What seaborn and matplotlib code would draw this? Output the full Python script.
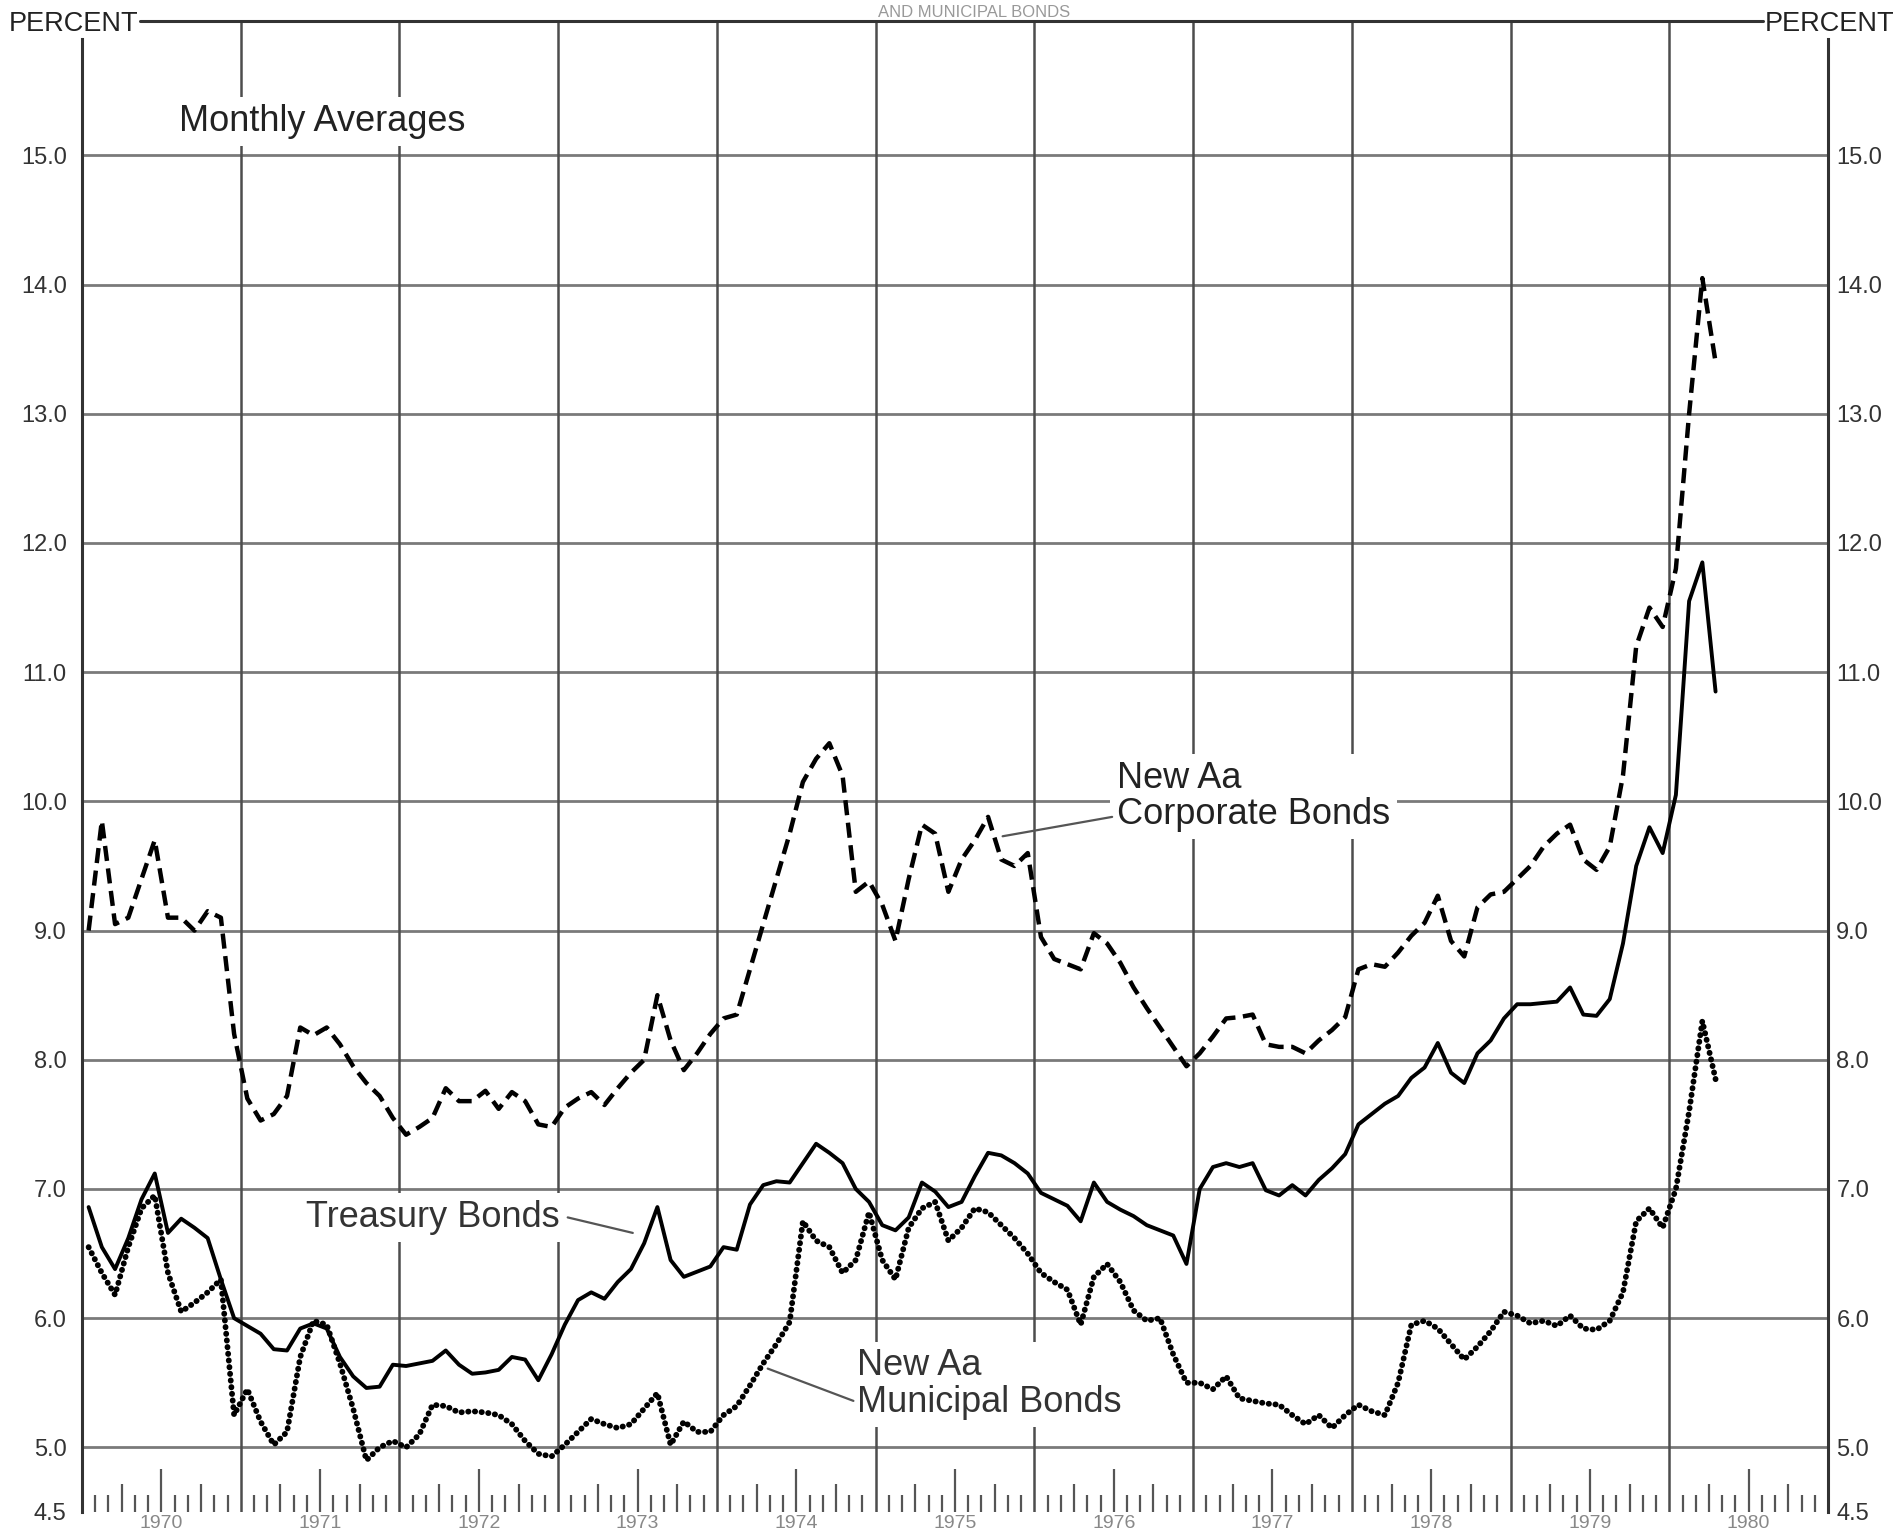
import numpy as np
import pandas as pd
import matplotlib
matplotlib.use("Agg")
import matplotlib.pyplot as plt
import seaborn as sns
from matplotlib.lines import Line2D

sns.set_theme(style="white")
plt.rcParams['font.family'] = ['Liberation Sans', 'DejaVu Sans']

# monthly averages, Jan 1970 - Apr 1980
months = pd.date_range("1970-01-01", "1980-04-01", freq="MS")

treasury = [6.86, 6.55, 6.38, 6.62, 6.92, 7.12, 6.66, 6.77, 6.70, 6.62, 6.30, 6.00,
            5.94, 5.88, 5.76, 5.75, 5.92, 5.96, 5.92, 5.70, 5.55, 5.46, 5.47, 5.64,
            5.63, 5.65, 5.67, 5.75, 5.64, 5.57, 5.58, 5.60, 5.70, 5.68, 5.52, 5.72,
            5.95, 6.14, 6.20, 6.15, 6.28, 6.38, 6.58, 6.86, 6.45, 6.32, 6.36, 6.40,
            6.55, 6.53, 6.88, 7.03, 7.06, 7.05, 7.20, 7.35, 7.28, 7.20, 7.00, 6.90,
            6.72, 6.68, 6.78, 7.05, 6.98, 6.86, 6.90, 7.10, 7.28, 7.26, 7.20, 7.12,
            6.97, 6.92, 6.87, 6.75, 7.05, 6.90, 6.84, 6.79, 6.72, 6.68, 6.64, 6.42,
            7.00, 7.17, 7.20, 7.17, 7.20, 6.99, 6.95, 7.03, 6.95, 7.07, 7.16, 7.27,
            7.50, 7.58, 7.66, 7.72, 7.86, 7.94, 8.13, 7.90, 7.82, 8.05, 8.15, 8.32,
            8.43, 8.43, 8.44, 8.45, 8.56, 8.35, 8.34, 8.47, 8.90, 9.50, 9.80, 9.60,
            10.05, 11.55, 11.85, 10.85]

corporate = [9.00, 9.85, 9.05, 9.10, 9.40, 9.70, 9.10, 9.10, 9.00, 9.15, 9.10, 8.20,
             7.70, 7.53, 7.58, 7.72, 8.25, 8.19, 8.25, 8.12, 7.95, 7.82, 7.72, 7.55,
             7.42, 7.48, 7.55, 7.78, 7.68, 7.68, 7.76, 7.62, 7.75, 7.68, 7.50, 7.48,
             7.63, 7.70, 7.75, 7.65, 7.78, 7.90, 8.00, 8.50, 8.15, 7.92, 8.05, 8.20,
             8.32, 8.35, 8.70, 9.05, 9.40, 9.75, 10.15, 10.33, 10.45, 10.20, 9.30, 9.38,
             9.20, 8.92, 9.40, 9.82, 9.75, 9.30, 9.55, 9.70, 9.88, 9.55, 9.50, 9.60,
             8.95, 8.78, 8.74, 8.70, 8.98, 8.90, 8.75, 8.56, 8.40, 8.25, 8.10, 7.95,
             8.05, 8.18, 8.32, 8.33, 8.35, 8.12, 8.10, 8.10, 8.05, 8.15, 8.23, 8.33,
             8.70, 8.74, 8.72, 8.83, 8.96, 9.06, 9.27, 8.92, 8.80, 9.18, 9.28, 9.30,
             9.40, 9.50, 9.65, 9.75, 9.82, 9.55, 9.47, 9.65, 10.20, 11.20, 11.50, 11.35,
             11.80, 13.00, 14.05, 13.40]

municipal = [6.55, 6.35, 6.18, 6.55, 6.85, 6.95, 6.35, 6.05, 6.12, 6.20, 6.30, 5.25,
             5.45, 5.20, 5.02, 5.12, 5.70, 5.98, 5.95, 5.65, 5.30, 4.90, 5.00, 5.05,
             5.00, 5.10, 5.33, 5.32, 5.27, 5.28, 5.27, 5.25, 5.18, 5.05, 4.95, 4.93,
             5.02, 5.12, 5.22, 5.18, 5.15, 5.18, 5.30, 5.42, 5.02, 5.20, 5.12, 5.12,
             5.25, 5.32, 5.48, 5.65, 5.80, 5.97, 6.75, 6.60, 6.55, 6.35, 6.45, 6.82,
             6.45, 6.30, 6.70, 6.85, 6.90, 6.60, 6.70, 6.85, 6.82, 6.72, 6.62, 6.50,
             6.35, 6.28, 6.22, 5.95, 6.32, 6.42, 6.28, 6.06, 5.98, 6.00, 5.72, 5.50,
             5.50, 5.45, 5.55, 5.38, 5.36, 5.34, 5.33, 5.25, 5.18, 5.25, 5.15, 5.25,
             5.33, 5.28, 5.25, 5.50, 5.95, 5.98, 5.92, 5.80, 5.68, 5.78, 5.90, 6.05,
             6.02, 5.96, 5.98, 5.94, 6.02, 5.92, 5.91, 5.98, 6.20, 6.75, 6.85, 6.70,
             7.00, 7.60, 8.30, 7.85]

year_labels = [str(y) for y in range(1970, 1981)]
y_ticks = [4.5] + list(range(5, 16))

df = pd.DataFrame({
    "t": months.year + (months.month - 0.5) / 12,
    "treasury": treasury,
    "corporate": corporate,
    "municipal": municipal,
})

W, H = 1899, 1539
fig = plt.figure(figsize=(W / 100, H / 100), dpi=100)
ax = fig.add_axes([82 / W, 1 - 1512 / H, (1828 - 82) / W, (1512 - 21) / H])
ytop = 16.04
ax.set_xlim(1970, 1981)
ax.set_ylim(4.5, ytop)

# grid
ax.hlines(np.arange(5, 16), 1970, 1981, color="#7a7a7a", lw=2.0, zorder=1)
ax.vlines(np.arange(1971, 1981), 4.5, ytop, color="#4d4d4d", lw=1.8, zorder=1)

# month ticks along the bottom
for yr in range(1970, 1981):
    for m in range(1, 12):
        h = 0.33 if m == 6 else (0.22 if m in (3, 9) else 0.13)
        ax.vlines(yr + m / 12, 4.5, 4.5 + h, color="#555555", lw=1.6, zorder=1)

# series
sns.lineplot(data=df, x="t", y="corporate", ax=ax, color="black", lw=3.2,
             linestyle=(0, (3.4, 1.7)), zorder=4)
sns.lineplot(data=df, x="t", y="treasury", ax=ax, color="black", lw=2.8, zorder=4)
sns.lineplot(data=df, x="t", y="municipal", ax=ax, color="black", lw=4.2,
             linestyle=(0, (0.05, 1.1)), dash_capstyle="round", zorder=4)
ax.set_xlabel("")
ax.set_ylabel("")

# spines
for s in ["top", "bottom"]:
    ax.spines[s].set_visible(False)
for s in ["left", "right"]:
    ax.spines[s].set_bounds(4.5, 15.9)
    ax.spines[s].set_color("#333333")
    ax.spines[s].set_linewidth(2.2)

ax.set_yticks(y_ticks)
ax.set_yticklabels([f"{v:.1f}" for v in y_ticks])
ax.tick_params(axis="y", length=0, pad=11, labelsize=17, labelcolor="#333333")
sec = ax.secondary_yaxis("right")
sec.set_yticks(y_ticks)
sec.set_yticklabels([f"{v:.1f}" for v in y_ticks])
sec.tick_params(length=0, pad=6, labelsize=17, labelcolor="#333333")
sec.spines["right"].set_visible(False)

ax.set_xticks([y + 0.5 for y in range(1970, 1981)])
ax.set_xticklabels(year_labels)
ax.tick_params(axis="x", length=0, pad=2, labelsize=14, labelcolor="#888888")

# header line with PERCENT at both ends
ytl = 1 - 21 / H
fig.add_artist(Line2D([140 / W, 1763 / W], [ytl, ytl], color="#333333", lw=2.2))
fig.text(138 / W, ytl, "PERCENT", ha="right", va="center_baseline", fontsize=19.5, color="#222222")
fig.text(1765 / W, ytl, "PERCENT", ha="left", va="center_baseline", fontsize=19.5, color="#222222")
fig.text(0.513, 1 - 17 / H, "AND MUNICIPAL BONDS", ha="center", va="baseline", fontsize=12, color="#999999")

box = dict(facecolor="white", edgecolor="none", pad=5)
ax.text(1970.61, 15.26, "Monthly Averages", fontsize=26, color="#222222",
        ha="left", va="center", bbox=box, zorder=3)
ax.text(1976.52, 10.04, "New Aa\nCorporate Bonds", fontsize=26, color="#222222",
        ha="left", va="center", linespacing=1.05, bbox=box, zorder=3)
ax.plot([1976.49, 1975.8], [9.88, 9.73], color="#555555", lw=1.6, zorder=3)
ax.text(1971.41, 6.78, "Treasury Bonds", fontsize=26, color="#333333",
        ha="left", va="center", bbox=box, zorder=3)
ax.plot([1973.06, 1973.47], [6.78, 6.66], color="#555555", lw=1.6, zorder=3)
ax.text(1974.88, 5.49, "New Aa\nMunicipal Bonds", fontsize=26, color="#333333",
        ha="left", va="center", linespacing=1.05, bbox=box, zorder=3)
ax.plot([1974.32, 1974.86], [5.61, 5.36], color="#555555", lw=1.6, zorder=3)

fig.savefig("out.png", dpi=100)
